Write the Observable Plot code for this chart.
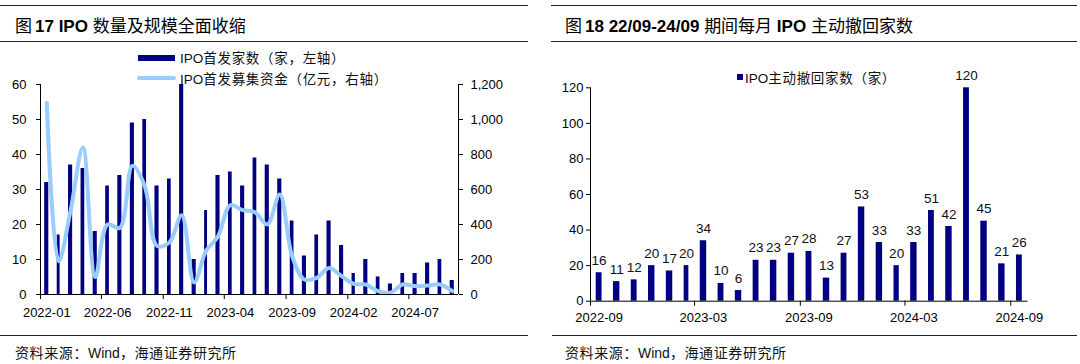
<!DOCTYPE html>
<html>
<head>
<meta charset="utf-8">
<script src="https://cdn.jsdelivr.net/npm/d3@7"></script>
<script src="https://cdn.jsdelivr.net/npm/@observablehq/plot@0.6"></script>
<style>
  body{margin:0;background:#fff;width:1080px;height:364px;position:relative;overflow:hidden;
       font-family:"Liberation Sans",Arial,"Noto Sans CJK SC",sans-serif;color:#000}
  .rule{position:absolute;height:0;border-top:1.6px solid #222}
  .title{position:absolute;font-size:17px;line-height:20px;white-space:nowrap;z-index:2}
  .title b{font-weight:bold}
  .cjk{font-family:"Noto Sans CJK SC",sans-serif;font-weight:400}
  .leg{position:absolute;font-size:13.5px;line-height:16px;white-space:nowrap;z-index:3;color:#111}
  .leg .cjk{letter-spacing:0.7px}
  .sw{position:absolute;z-index:3}
  .src{position:absolute;font-size:14px;line-height:16px;white-space:nowrap;color:#111}
  .src .cjk{letter-spacing:0.6px}
  .chart{position:absolute;top:44px}
</style>
</head>
<body>
<div class="rule" style="left:0;top:5px;width:528px"></div>
<div class="rule" style="left:0;top:41px;width:528px"></div>
<div class="rule" style="left:551px;top:5px;width:526px"></div>
<div class="rule" style="left:551px;top:41px;width:526px"></div>
<div class="rule" style="left:0;top:335px;width:528px"></div>
<div class="rule" style="left:552px;top:335px;width:525px"></div>

<div class="title" style="left:15px;top:15px"><span class="cjk" style="margin-right:3px">图</span><b>17 IPO</b> <span class="cjk">数量及规模全面收缩</span></div>
<div class="title" style="left:565px;top:15px"><span class="cjk" style="margin-right:3px">图</span><b>18 22/09-24/09</b> <span class="cjk">期间每月</span> <b>IPO</b> <span class="cjk">主动撤回家数</span></div>

<div id="left" class="chart" style="left:0"></div>
<div id="right" class="chart" style="left:540px"></div>

<div class="sw" style="left:138px;top:55px;width:37px;height:6px;background:#000080"></div>
<div class="leg" style="left:180px;top:49px">IPO<span class="cjk">首发家数（家，左轴）</span></div>
<div class="sw" style="left:137px;top:76px;width:39px;height:4px;background:#99ccff;border-radius:2px"></div>
<div class="leg" style="left:180px;top:70px">IPO<span class="cjk">首发募集资金（亿元，右轴）</span></div>

<div class="sw" style="left:737px;top:74px;width:6px;height:6px;background:#000080"></div>
<div class="leg" style="left:745px;top:69px">IPO<span class="cjk">主动撤回家数（家）</span></div>

<div class="src" style="left:15px;top:344px"><span class="cjk">资料来源：</span>Wind<span class="cjk">，海通证券研究所</span></div>
<div class="src" style="left:565px;top:344px"><span class="cjk">资料来源：</span>Wind<span class="cjk">，海通证券研究所</span></div>

<script>
// ---------- data ----------
const ipoMonths = ["2022-01","2022-02","2022-03","2022-04","2022-05","2022-06","2022-07","2022-08","2022-09","2022-10","2022-11","2022-12",
  "2023-01","2023-02","2023-03","2023-04","2023-05","2023-06","2023-07","2023-08","2023-09","2023-10","2023-11","2023-12",
  "2024-01","2024-02","2024-03","2024-04","2024-05","2024-06","2024-07","2024-08","2024-09","2024-10"];
const ipoCount = [32,17,37,36,18,31,34,49,50,31,33,60,10,24,34,35,31,39,37,33,21,11,17,21,14,6,10,5,3,6,6,9,10,4];
const ipoAmount = [1095,190,480,840,100,400,380,735,620,278,297,453,69,250,331,510,482,470,400,571,219,86,95,152,105,61,57,19,10,57,48,51,57,19];
const ipoTicks = ["2022-01","2022-06","2022-11","2023-04","2023-09","2024-02","2024-07"];
const leftTicks = [0,10,20,30,40,50,60];
const rightTicks = [0,200,400,600,800,1000,1200];

const wdMonths = ["2022-09","2022-10","2022-11","2022-12","2023-01","2023-02","2023-03","2023-04","2023-05","2023-06","2023-07","2023-08",
  "2023-09","2023-10","2023-11","2023-12","2024-01","2024-02","2024-03","2024-04","2024-05","2024-06","2024-07","2024-08","2024-09"];
const wdCount = [16,11,12,20,17,20,34,10,6,23,23,27,28,13,27,53,33,20,33,51,42,120,45,21,26];
const wdTicks = ["2022-09","2023-03","2023-09","2024-03","2024-09"];
const wdYTicks = [0,20,40,60,80,100,120];

// ---------- helpers ----------
const P = d3.utcParse("%Y-%m");
const mid = d => new Date((+d + +d3.utcMonth.offset(d, 1)) / 2);
const NAVY = "#000080";
const font = '"Liberation Sans", Arial, "Noto Sans CJK SC", sans-serif';
const ratio = rightTicks[rightTicks.length-1] / leftTicks[leftTicks.length-1];

const ipo = ipoMonths.map((m, i) => {
  const s = P(m);
  return {start: s, end: d3.utcMonth.offset(s, 1), mid: mid(s), count: ipoCount[i], amount: ipoAmount[i]};
});
const wd = wdMonths.map((m, i) => {
  const s = P(m);
  return {start: s, end: d3.utcMonth.offset(s, 1), mid: mid(s), count: wdCount[i]};
});

// ---------- left chart ----------
const left = Plot.plot({
  width: 540, height: 290,
  marginTop: 40, marginBottom: 40, marginLeft: 40, marginRight: 82,
  style: {fontFamily: font, fontSize: "13px", color: "#000", background: "transparent"},
  x: {type: "utc", domain: [ipo[0].start, ipo[ipo.length-1].end]},
  y: {domain: [leftTicks[0], leftTicks[leftTicks.length-1]]},
  marks: [
    Plot.rectY(ipo, {x1: "start", x2: "end", y: "count", fill: NAVY, insetLeft: 4.2, insetRight: 4.2}),
    Plot.lineY(ipo, {x: "mid", y: d => d.amount / ratio, stroke: "#99ccff", strokeWidth: 4, curve: "catmull-rom"}),
    Plot.ruleY([0], {stroke: "#000"}),
    Plot.ruleX([ipo[0].start], {stroke: "#000"}),
    Plot.ruleX([ipo[ipo.length-1].end], {stroke: "#000"}),
    Plot.axisY({anchor: "left", ticks: leftTicks, tickSize: 4, tickPadding: 10, label: null, fontSize: 13}),
    Plot.axisY({anchor: "right", ticks: leftTicks, tickSize: 4, tickPadding: 8, label: null, fontSize: 13,
      tickFormat: d => d3.format(",")(rightTicks[leftTicks.indexOf(d)])}),
    Plot.axisX({ticks: ipoTicks.map(P), tickSize: 5, tickFormat: () => "", label: null}),
    Plot.axisX({ticks: ipoTicks.map(P).map(mid), tickSize: 0, tickPadding: 13, tickFormat: "%Y-%m", label: null, fontSize: 13})
  ]
});
document.getElementById("left").appendChild(left);

// ---------- right chart ----------
const right = Plot.plot({
  width: 540, height: 290,
  marginTop: 43.3, marginBottom: 33.3, marginLeft: 50, marginRight: 52.5,
  style: {fontFamily: font, fontSize: "13px", color: "#000", background: "transparent"},
  x: {type: "utc", domain: [wd[0].start, wd[wd.length-1].end]},
  y: {domain: [wdYTicks[0], wdYTicks[wdYTicks.length-1]]},
  marks: [
    Plot.rectY(wd, {x1: "start", x2: "end", y: "count", fill: NAVY, insetLeft: 5.7, insetRight: 5.7}),
    Plot.text(wd, {x: "mid", y: "count", text: "count", dy: -8, lineAnchor: "bottom", fontSize: 13.5, fill: "#111"}),
    Plot.ruleY([0], {stroke: "#000"}),
    Plot.ruleX([wd[0].start], {stroke: "#000"}),
    Plot.axisY({anchor: "left", ticks: wdYTicks, tickSize: 4, tickPadding: 3, label: null, fontSize: 13}),
    Plot.axisX({ticks: wdTicks.map(P), tickSize: 5, tickFormat: () => "", label: null}),
    Plot.axisX({ticks: wdTicks.map(P).map(mid), tickSize: 0, tickPadding: 12, tickFormat: "%Y-%m", label: null, fontSize: 13})
  ]
});
document.getElementById("right").appendChild(right);
</script>
</body>
</html>
